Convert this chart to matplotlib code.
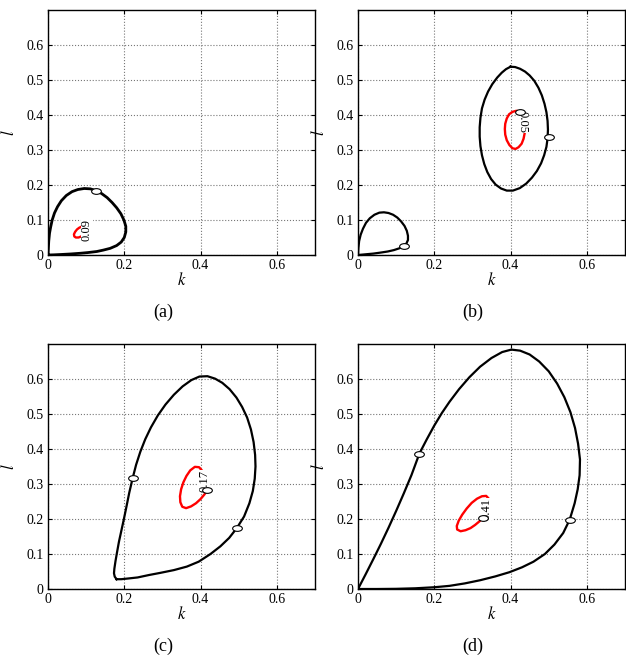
import numpy as np
import matplotlib
matplotlib.use("Agg")
import matplotlib.pyplot as plt
from matplotlib.path import Path
from matplotlib.transforms import Affine2D

plt.rcParams['font.family'] = ['Liberation Serif', 'DejaVu Serif']
plt.rcParams['mathtext.fontset'] = 'stix'

# ---- data (k, l) ----
# (a)
a_black_k = [0, 0.001, 0.002, 0.004, 0.007, 0.011, 0.017, 0.025, 0.035, 0.048, 0.063, 0.078, 0.095,
             0.111, 0.126, 0.140, 0.155, 0.168, 0.180, 0.191, 0.199, 0.204, 0.204, 0.200, 0.192, 0.180,
             0.163, 0.145, 0.128, 0.105, 0.085, 0.060, 0.035, 0.015, 0]
a_black_l = [0, 0.020, 0.040, 0.062, 0.080, 0.100, 0.120, 0.138, 0.155, 0.170, 0.181, 0.187, 0.190,
             0.189, 0.184, 0.176, 0.164, 0.150, 0.135, 0.118, 0.100, 0.082, 0.066, 0.050, 0.037, 0.027,
             0.019, 0.014, 0.010, 0.007, 0.005, 0.003, 0.0015, 0.0005, 0]
a_red_k = [0.094, 0.088, 0.082, 0.076, 0.071, 0.068, 0.069, 0.073, 0.080, 0.087, 0.093, 0.097, 0.099, 0.098, 0.094]
a_red_l = [0.081, 0.081, 0.078, 0.073, 0.066, 0.059, 0.053, 0.050, 0.050, 0.053, 0.058, 0.065, 0.072, 0.078, 0.081]
a_marks = [(0.126, 0.184)]
a_label = ("0.09", 0.101, 0.071, 90)

# (b)
b_small_k = [0, 0.001, 0.003, 0.007, 0.013, 0.021, 0.031, 0.043, 0.056, 0.068, 0.080, 0.092, 0.103,
             0.113, 0.122, 0.128, 0.131, 0.131, 0.127, 0.120, 0.108, 0.094, 0.078, 0.060, 0.040, 0.020, 0]
b_small_l = [0, 0.020, 0.040, 0.058, 0.075, 0.092, 0.105, 0.115, 0.121, 0.122, 0.120, 0.115, 0.107,
             0.096, 0.083, 0.069, 0.055, 0.043, 0.033, 0.026, 0.019, 0.014, 0.010, 0.007, 0.004, 0.002, 0]
b_big_k = [0.400, 0.412, 0.425, 0.438, 0.450, 0.462, 0.473, 0.482, 0.489, 0.494, 0.497, 0.498, 0.497, 0.494,
           0.488, 0.480, 0.469, 0.456, 0.441, 0.424, 0.406, 0.390, 0.375, 0.361, 0.349, 0.339, 0.331,
           0.325, 0.321, 0.319, 0.319, 0.321, 0.325, 0.332, 0.341, 0.352, 0.365, 0.377, 0.388, 0.400]
b_big_l = [0.538, 0.537, 0.532, 0.524, 0.513, 0.498, 0.478, 0.456, 0.432, 0.408, 0.383, 0.358, 0.333, 0.309,
           0.285, 0.262, 0.240, 0.221, 0.204, 0.191, 0.184, 0.184, 0.190, 0.201, 0.217, 0.237, 0.260,
           0.285, 0.311, 0.338, 0.365, 0.392, 0.419, 0.444, 0.467, 0.488, 0.507, 0.521, 0.531, 0.538]
b_red_k = [0.424, 0.415, 0.405, 0.396, 0.390, 0.386, 0.385, 0.386, 0.390, 0.397, 0.405, 0.413, 0.421,
           0.429, 0.434, 0.437, 0.436, 0.433, 0.429, 0.424]
b_red_l = [0.410, 0.412, 0.409, 0.402, 0.390, 0.375, 0.360, 0.344, 0.328, 0.314, 0.305, 0.303, 0.308,
           0.318, 0.332, 0.348, 0.365, 0.382, 0.397, 0.410]
b_marks = [(0.120, 0.026), (0.500, 0.337), (0.424, 0.410)]
b_label = ("0.05", 0.431, 0.380, -90)

# (c)
c_black_k = [0.180, 0.175, 0.173, 0.174, 0.177, 0.181, 0.186, 0.192, 0.199, 0.206, 0.213, 0.222, 0.231,
             0.242, 0.255, 0.270, 0.288, 0.308, 0.330, 0.353, 0.376, 0.397, 0.418, 0.438, 0.457, 0.476,
             0.494, 0.509, 0.522, 0.532, 0.539, 0.543, 0.544, 0.542, 0.537, 0.528, 0.514, 0.495, 0.475,
             0.452, 0.426, 0.395, 0.364, 0.330, 0.294, 0.265, 0.235, 0.210, 0.192, 0.180]
c_black_l = [0.028, 0.035, 0.045, 0.058, 0.080, 0.105, 0.135, 0.165, 0.200, 0.237, 0.275, 0.317, 0.355,
             0.392, 0.428, 0.462, 0.496, 0.527, 0.555, 0.579, 0.597, 0.607, 0.608, 0.601, 0.589, 0.571,
             0.547, 0.520, 0.490, 0.456, 0.420, 0.383, 0.350, 0.315, 0.280, 0.245, 0.207, 0.174, 0.146,
             0.122, 0.100, 0.078, 0.064, 0.054, 0.046, 0.040, 0.033, 0.030, 0.028, 0.028]
c_red_k = [0.417, 0.410, 0.400, 0.388, 0.375, 0.362, 0.352, 0.347, 0.346, 0.349, 0.355, 0.363, 0.373,
           0.385, 0.396, 0.404, 0.409, 0.412, 0.415, 0.417]
c_red_l = [0.282, 0.270, 0.257, 0.245, 0.236, 0.231, 0.235, 0.248, 0.265, 0.285, 0.305, 0.323, 0.339,
           0.349, 0.348, 0.338, 0.322, 0.303, 0.290, 0.282]
c_marks = [(0.222, 0.317), (0.495, 0.174), (0.417, 0.282)]
c_label = ("0.17", 0.410, 0.309, 90)

# (d)
d_black_k = [0, 0.020, 0.040, 0.060, 0.080, 0.100, 0.120, 0.140, 0.161, 0.180, 0.200, 0.220,
             0.240, 0.265, 0.292, 0.320, 0.350, 0.378, 0.402, 0.425, 0.450, 0.475, 0.500, 0.522,
             0.541, 0.557, 0.569, 0.577, 0.582, 0.581, 0.576, 0.568, 0.555, 0.538, 0.515, 0.490, 0.460,
             0.430, 0.397, 0.360, 0.320, 0.280, 0.240, 0.200, 0.150, 0.100, 0.050, 0]
d_black_l = [0, 0.042, 0.085, 0.129, 0.175, 0.223, 0.273, 0.325, 0.387, 0.427, 0.467, 0.503,
             0.535, 0.571, 0.605, 0.635, 0.660, 0.677, 0.684, 0.681, 0.670, 0.650, 0.622, 0.587,
             0.548, 0.505, 0.460, 0.415, 0.370, 0.325, 0.285, 0.245, 0.198, 0.160, 0.127, 0.100, 0.078,
             0.062, 0.048, 0.036, 0.025, 0.016, 0.009, 0.005, 0.002, 0.0005, 0, 0]
d_red_k = [0.327, 0.318, 0.307, 0.295, 0.282, 0.269, 0.260, 0.259, 0.264, 0.273, 0.285, 0.298, 0.312,
           0.325, 0.336, 0.343, 0.345, 0.342, 0.336, 0.327]
d_red_l = [0.203, 0.193, 0.183, 0.174, 0.168, 0.165, 0.170, 0.180, 0.195, 0.212, 0.230, 0.246, 0.258,
           0.265, 0.266, 0.258, 0.245, 0.228, 0.213, 0.203]
d_marks = [(0.161, 0.387), (0.555, 0.198), (0.327, 0.203)]
d_label = ("0.41", 0.338, 0.230, 90)

panels = [
    ("(a)", [(a_black_k, a_black_l)], (a_red_k, a_red_l), a_marks, a_label, 2.0),
    ("(b)", [(b_small_k, b_small_l), (b_big_k, b_big_l)], (b_red_k, b_red_l), b_marks, b_label, 1.6),
    ("(c)", [(c_black_k, c_black_l)], (c_red_k, c_red_l), c_marks, c_label, 1.6),
    ("(d)", [(d_black_k, d_black_l)], (d_red_k, d_red_l), d_marks, d_label, 1.6),
]

# flat ellipse marker
circ = Path.unit_circle()
ell = Path(Affine2D().scale(1.7, 1.0).transform(circ.vertices), circ.codes)

W, H = 626, 658
fig = plt.figure(figsize=(W / 100, H / 100), dpi=100)
boxes = [(48, 10), (358, 10), (48, 344), (358, 344)]
for (name, blacks, red, marks, lab, lw), (x0, y0) in zip(panels, boxes):
    ax = fig.add_axes([x0 / W, 1 - (y0 + 245) / H, 267 / W, 245 / H])
    for bk, bl in blacks:
        ax.plot(bk, bl, color='black', lw=lw, zorder=3, solid_joinstyle='round')
    ax.plot(red[0], red[1], color='red', lw=1.7, zorder=3, solid_joinstyle='round')
    txt, tx, ty, rot = lab
    ax.text(tx, ty, txt, rotation=rot, ha='center', va='center', fontsize=9, zorder=4,
            bbox=dict(facecolor='white', edgecolor='none', pad=0.0))
    mk, ml = zip(*marks)
    ax.plot(mk, ml, linestyle='none', marker=ell, markersize=7, markerfacecolor='white',
            markeredgecolor='black', markeredgewidth=0.8, zorder=5)
    ax.set_xlim(0, 0.7)
    ax.set_ylim(0, 0.7)
    ax.set_xticks([0, 0.2, 0.4, 0.6])
    ax.set_xticklabels(['0', '0.2', '0.4', '0.6'])
    ax.set_yticks([0, 0.1, 0.2, 0.3, 0.4, 0.5, 0.6])
    ax.set_yticklabels(['0', '0.1', '0.2', '0.3', '0.4', '0.5', '0.6'])
    ax.tick_params(direction='in', top=True, right=True, labelsize=10, length=3, pad=3)
    ax.grid(True, linestyle=':', color='#777777', lw=0.8)
    ax.set_axisbelow(True)
    ax.set_xlabel('$k$', fontsize=12, labelpad=0)
    ax.set_ylabel('$l$', fontsize=12, labelpad=6)
    for s in ax.spines.values():
        s.set_linewidth(1.0)
    fig.text((x0 + 115) / W, 1 - (y0 + 302) / H, name, ha='center', va='center', fontsize=13)

fig.savefig('out.png', dpi=100)
